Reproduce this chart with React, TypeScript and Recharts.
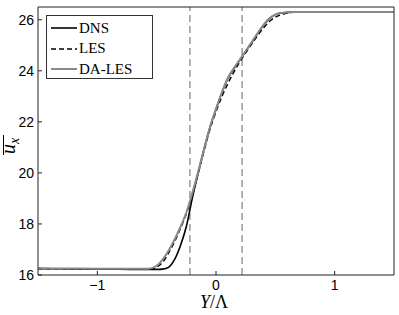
import React from 'react'
import { LineChart, Line, XAxis, YAxis, ReferenceLine, Legend } from 'recharts'

// sample positions Y/Lambda
const Y_POS = [
  -1.5, -1.2, -0.9, -0.7, -0.6, -0.55, -0.5, -0.45, -0.4, -0.35, -0.3, -0.25,
  -0.2, -0.15, -0.1, -0.05, 0, 0.05, 0.1, 0.15, 0.2, 0.25, 0.3, 0.35, 0.4,
  0.45, 0.5, 0.55, 0.6, 0.65, 0.7, 0.9, 1.2, 1.5
]

const DNS = [
  16.25, 16.24, 16.23, 16.22, 16.22, 16.22, 16.22, 16.23, 16.3, 16.6, 17.15,
  17.9, 19.0, 20.0, 20.95, 21.8, 22.5, 23.15, 23.7, 24.08, 24.42, 24.76, 25.1,
  25.45, 25.78, 26.04, 26.2, 26.27, 26.29, 26.3, 26.3, 26.3, 26.3, 26.3
]

const LES = [
  16.25, 16.24, 16.23, 16.23, 16.23, 16.24, 16.31, 16.5, 16.86, 17.3, 17.82,
  18.4, 19.12, 19.98, 20.88, 21.72, 22.4, 23.0, 23.5, 23.95, 24.35, 24.7,
  25.05, 25.38, 25.68, 25.93, 26.1, 26.2, 26.26, 26.29, 26.3, 26.3, 26.3, 26.3
]

const DA_LES = [
  16.26, 16.25, 16.24, 16.24, 16.24, 16.26, 16.36, 16.6, 16.95, 17.38, 17.88,
  18.45, 19.2, 20.05, 20.95, 21.8, 22.5, 23.15, 23.72, 24.1, 24.43, 24.77,
  25.12, 25.47, 25.8, 26.06, 26.2, 26.27, 26.29, 26.3, 26.3, 26.3, 26.3, 26.3
]

const X_TICKS = [-1, 0, 1]
const Y_TICKS = [16, 18, 20, 22, 24, 26]
const MARKERS = [-0.22, 0.22]
const SERIES_NAMES = ['DNS', 'LES', 'DA-LES']

const chartData = Y_POS.map((y, i) => ({
  y,
  DNS: DNS[i],
  LES: LES[i],
  'DA-LES': DA_LES[i]
}))

const SERIES_STYLE: Record<string, { stroke: string; width: number; dash?: string }> = {
  DNS: { stroke: '#000', width: 1.6 },
  LES: { stroke: '#000', width: 1.5, dash: '5 3' },
  'DA-LES': { stroke: '#8a8a8a', width: 2 }
}

const AXIS = '#222'
const tickFont = { fontFamily: 'Liberation Sans, Arial, sans-serif', fontSize: 14, fill: '#000' }
const minus = (v: number) => String(v).replace('-', '\u2212')

// overlined u_x, drawn rotated
const YLabel = (props: any) => {
  const { x, y, height } = props.viewBox
  const cx = x - 22
  const cy = y + height / 2 + 5
  return (
    <g transform={`translate(${cx},${cy}) rotate(-90)`}>
      <text x={-8} y={0} fontFamily="Liberation Serif, serif" fontSize={20} fontStyle="italic">
        u
        <tspan fontSize={14} dy={4}>x</tspan>
      </text>
      <line x1={-9} y1={-11.5} x2={11} y2={-11.5} stroke="#000" strokeWidth={1} />
    </g>
  )
}

const XLabel = (props: any) => {
  const { x, width } = props.viewBox
  return (
    <text x={x + width / 2 - 2} y={308} textAnchor="middle" fontFamily="Liberation Serif, serif" fontSize={18}>
      <tspan fontStyle="italic">Y</tspan>/Λ
    </text>
  )
}

const LegendBox = () => (
  <div
    style={{
      width: 105,
      height: 60,
      border: '1px solid #333',
      background: '#fff',
      paddingTop: 2,
      boxSizing: 'content-box',
      fontFamily: 'Liberation Serif, serif',
      fontSize: 15
    }}
  >
    {SERIES_NAMES.map((name) => {
      const s = SERIES_STYLE[name]
      return (
        <div key={name} style={{ height: 20.5, display: 'flex', alignItems: 'center' }}>
          <svg width={31} height={6} style={{ marginLeft: 4, marginRight: 1 }}>
            <line x1={0} y1={3} x2={26} y2={3} stroke={s.stroke} strokeWidth={s.width} strokeDasharray={s.dash} />
          </svg>
          <span style={{ lineHeight: '15px', marginLeft: -4 }}>{name}</span>
        </div>
      )
    })}
  </div>
)

export default function App() {
  return (
    <div style={{ position: 'absolute', left: 0, top: 0, background: '#fff' }}>
      <LineChart width={399} height={315} data={chartData} margin={{ top: 6, right: 4, left: 37, bottom: 39 }}>
        <XAxis
          xAxisId="b"
          dataKey="y"
          type="number"
          domain={[-1.5, 1.5]}
          ticks={X_TICKS}
          allowDataOverflow
          height={1}
          stroke={AXIS}
          tickSize={-4}
          tickMargin={9}
          tick={tickFont}
          tickFormatter={minus}
          label={<XLabel />}
        />
        <XAxis
          xAxisId="t"
          dataKey="y"
          orientation="top"
          type="number"
          domain={[-1.5, 1.5]}
          ticks={X_TICKS}
          allowDataOverflow
          height={1}
          stroke={AXIS}
          tickSize={-4}
          tick={false}
        />
        <YAxis
          yAxisId="l"
          type="number"
          domain={[16, 26.5]}
          ticks={Y_TICKS}
          allowDataOverflow
          width={1}
          stroke={AXIS}
          tickSize={-4}
          tickMargin={8}
          tick={tickFont}
          label={<YLabel />}
        />
        <YAxis
          yAxisId="r"
          orientation="right"
          type="number"
          domain={[16, 26.5]}
          ticks={Y_TICKS}
          allowDataOverflow
          width={1}
          stroke={AXIS}
          tickSize={-4}
          tick={false}
        />
        {MARKERS.map((m) => (
          <ReferenceLine key={m} x={m} xAxisId="b" yAxisId="l" stroke="#999" strokeWidth={1.5} strokeDasharray="7 4" />
        ))}
        {SERIES_NAMES.map((name) => {
          const s = SERIES_STYLE[name]
          return (
            <Line
              key={name}
              xAxisId="b"
              yAxisId="l"
              type="monotone"
              dataKey={name}
              stroke={s.stroke}
              strokeWidth={s.width}
              strokeDasharray={s.dash}
              dot={false}
              isAnimationActive={false}
            />
          )
        })}
        <Line xAxisId="t" yAxisId="r" dataKey="DNS" stroke="none" dot={false} legendType="none" isAnimationActive={false} />
        <Legend
          layout="vertical"
          align="center"
          verticalAlign="middle"
          wrapperStyle={{ left: 46, top: 15, width: 'auto', height: 'auto' }}
          content={<LegendBox />}
        />
      </LineChart>
    </div>
  )
}
